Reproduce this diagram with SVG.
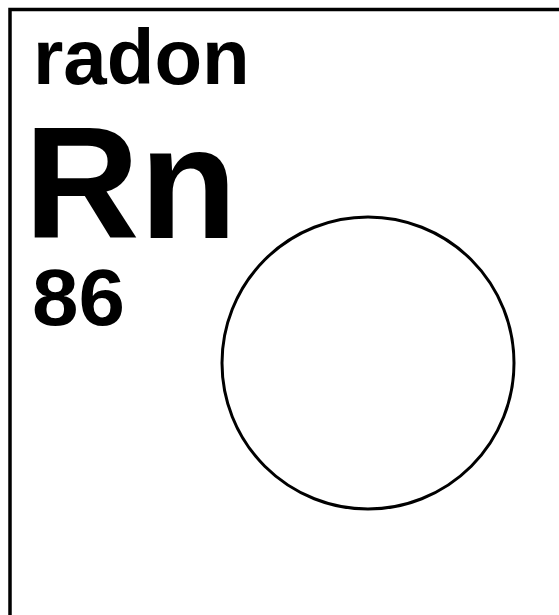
<svg xmlns="http://www.w3.org/2000/svg" width="559" height="615" viewBox="0 0 559 615">
<style>
text{font-family:"Liberation Sans",Arial,sans-serif;font-weight:bold;fill:#000}
.s{fill:none;stroke:#000}
</style>
<rect width="559" height="615" fill="#fff"/>
<g id="tile">
<rect class="s" x="10" y="9.5" width="600" height="700" stroke-width="3.5"/>
</g>
<g id="name"><text x="33" y="84" font-size="78">radon</text></g>
<g id="symbol"><text x="24" y="238" font-size="160">Rn</text></g>
<g id="number"><text x="32" y="325" font-size="80" textLength="93" lengthAdjust="spacingAndGlyphs">86</text></g>
<g id="shell"><circle class="s" cx="368" cy="363" r="146" stroke-width="3"/></g>
</svg>
